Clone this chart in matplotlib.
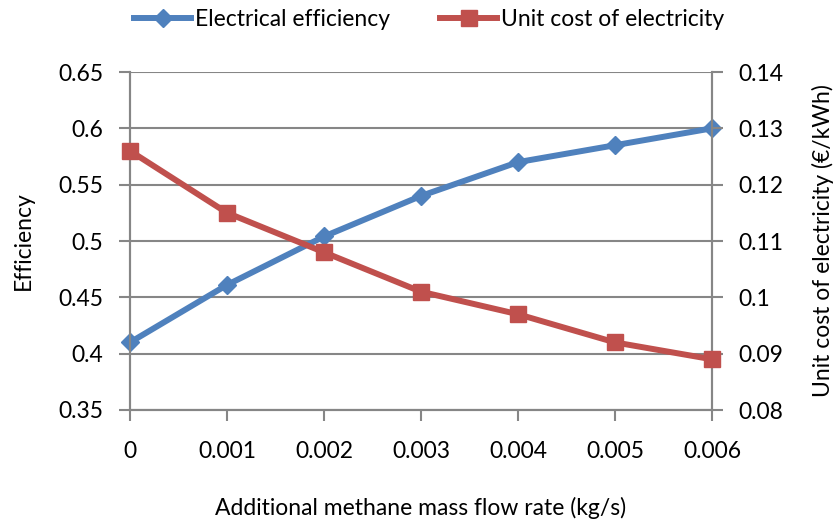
import numpy as np
import matplotlib.pyplot as plt

plt.rcParams['font.family'] = ['Lato', 'DejaVu Sans']

flow_labels = ['0', '0.001', '0.002', '0.003', '0.004', '0.005', '0.006']
efficiency = [0.41, 0.461, 0.504, 0.54, 0.57, 0.585, 0.60]
unit_cost = [0.126, 0.115, 0.108, 0.101, 0.097, 0.092, 0.089]

blue = '#4F81BD'
red = '#C0504D'
grey = '#868686'
fs = 16.5

fig = plt.figure(figsize=(8.4, 5.27), dpi=100)
ax = fig.add_axes([130/840, 1 - 410/527, (712-130)/840, (410-72)/527])
ax2 = ax.twinx()

x = np.arange(len(flow_labels))

l1, = ax.plot(x, efficiency, color=blue, linewidth=4.3, marker='D', markersize=9,
              label='Electrical efficiency', clip_on=False, zorder=3)
l2, = ax2.plot(x, unit_cost, color=red, linewidth=4.3, marker='s', markersize=11.5,
               label='Unit cost of electricity', clip_on=False, zorder=3)

# Left axis
ax.set_xlim(0, len(flow_labels) - 1)
ax.set_ylim(0.35, 0.65)
ax.set_yticks(np.arange(0.35, 0.651, 0.05))
ax.set_yticklabels(['0.35', '0.4', '0.45', '0.5', '0.55', '0.6', '0.65'])
ax.set_xticks(x)
ax.set_xticklabels(flow_labels)
ax.yaxis.grid(True, color=grey, linewidth=1.5)
ax.set_axisbelow(True)

# Right axis
ax2.set_ylim(0.08, 0.14)
ax2.set_yticks(np.arange(0.08, 0.1401, 0.01))
ax2.set_yticklabels(['0.08', '0.09', '0.1', '0.11', '0.12', '0.13', '0.14'])

for a in (ax, ax2):
    for side in ('left', 'right', 'bottom'):
        a.spines[side].set_color(grey)
        a.spines[side].set_linewidth(1.5)
    a.spines['top'].set_visible(False)
    a.tick_params(colors=grey, width=1.5, length=8, labelcolor='black', labelsize=fs)

ax.tick_params(axis='y', pad=11)
ax2.tick_params(axis='y', pad=11)
ax.tick_params(axis='x', pad=14)

ax.set_xlabel('Additional methane mass flow rate (kg/s)', fontsize=fs)
ax.set_ylabel('Efficiency', fontsize=fs)
ax2.set_ylabel('Unit cost of electricity (€/kWh)', fontsize=fs)
ax.xaxis.set_label_coords(0.5, -0.257)
ax.yaxis.set_label_coords(-0.165, 0.5)
ax2.yaxis.set_label_coords(1.172, 0.5)

fig.legend(handles=[l1, l2], loc='center', bbox_to_anchor=(429/840, 1 - 20/527),
           ncol=2, frameon=False, fontsize=fs, handlelength=2.5,
           handletextpad=0.15, columnspacing=2.2)

fig.savefig('out.png', dpi=100)
